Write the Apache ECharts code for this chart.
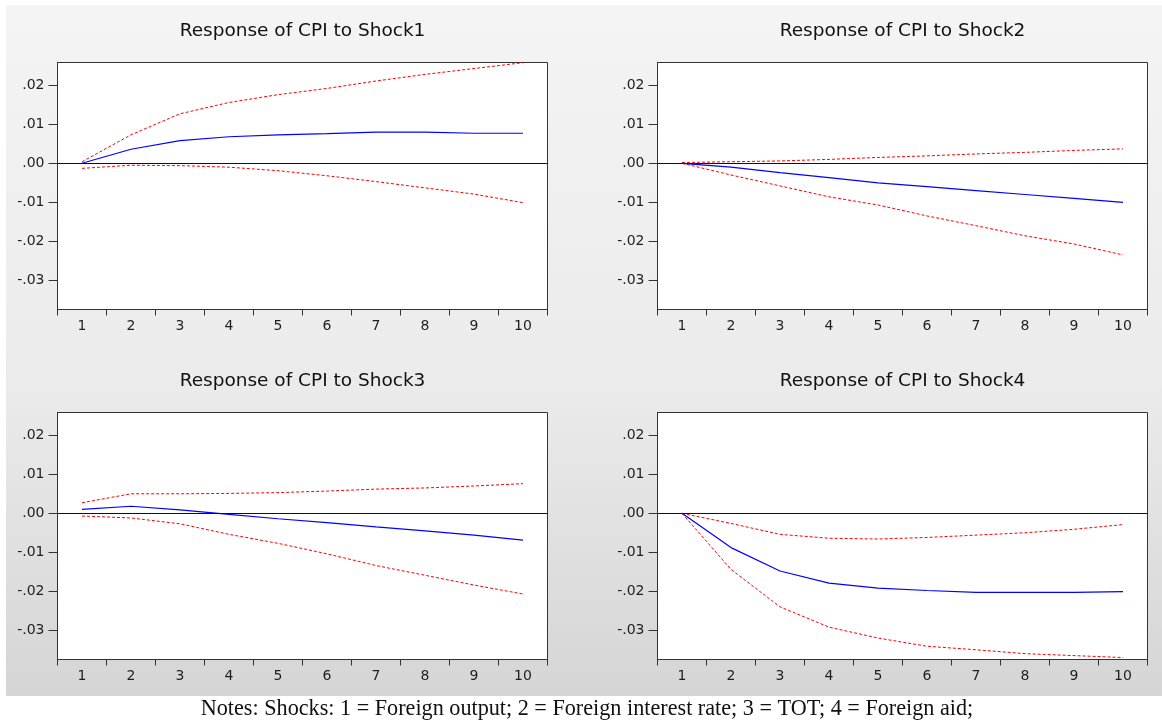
<!DOCTYPE html>
<html>
<head>
<meta charset="utf-8">
<script src="https://cdn.jsdelivr.net/npm/echarts@6/dist/echarts.min.js"></script>
<style>
  html, body { margin: 0; padding: 0; background: #ffffff; }
  #chart { width: 1162px; height: 725px; }
</style>
</head>
<body>
<div id="chart"></div>
<script>
// ---- data ----
var periods = ['1', '2', '3', '4', '5', '6', '7', '8', '9', '10'];
var yTicks = [-0.03, -0.02, -0.01, 0, 0.01, 0.02];

var titles = ['Response of CPI to Shock1', 'Response of CPI to Shock2',
              'Response of CPI to Shock3', 'Response of CPI to Shock4'];

var shock1Resp  = [0.0000, 0.0036, 0.0058, 0.0068, 0.0073, 0.0076, 0.0080, 0.0080, 0.0077, 0.0077];
var shock1Upper = [0.0004, 0.0073, 0.0127, 0.0156, 0.0176, 0.0192, 0.0211, 0.0228, 0.0243, 0.0258];
var shock1Lower = [-0.0013, -0.0005, -0.0006, -0.0010, -0.0019, -0.0032, -0.0047, -0.0063, -0.0079, -0.0101];

var shock2Resp  = [0.0000, -0.0010, -0.0024, -0.0037, -0.0050, -0.0060, -0.0070, -0.0080, -0.0090, -0.0100];
var shock2Upper = [0.0002, 0.0004, 0.0006, 0.0010, 0.0015, 0.0019, 0.0024, 0.0028, 0.0033, 0.0037];
var shock2Lower = [0.0000, -0.0030, -0.0058, -0.0086, -0.0107, -0.0135, -0.0160, -0.0186, -0.0207, -0.0235];

var shock3Resp  = [0.0010, 0.0018, 0.0009, -0.0003, -0.0014, -0.0024, -0.0035, -0.0045, -0.0056, -0.0069];
var shock3Upper = [0.0027, 0.0050, 0.0050, 0.0051, 0.0053, 0.0057, 0.0062, 0.0065, 0.0070, 0.0076];
var shock3Lower = [-0.0007, -0.0012, -0.0027, -0.0054, -0.0077, -0.0104, -0.0134, -0.0159, -0.0184, -0.0207];

var shock4Resp  = [0.0000, -0.0088, -0.0148, -0.0179, -0.0192, -0.0198, -0.0203, -0.0203, -0.0203, -0.0201];
var shock4Upper = [0.0000, -0.0026, -0.0054, -0.0064, -0.0066, -0.0062, -0.0056, -0.0050, -0.0041, -0.0029];
var shock4Lower = [0.0000, -0.0144, -0.0240, -0.0292, -0.0320, -0.0341, -0.0350, -0.0360, -0.0365, -0.0370];

var notesText = 'Notes: Shocks: 1 = Foreign output; 2 = Foreign interest rate; 3 = TOT; 4 = Foreign aid;';

// ---- layout ----
var panels = [
  { left: 57.5, top: 62.5, resp: shock1Resp, up: shock1Upper, lo: shock1Lower },
  { left: 657.5, top: 62.5, resp: shock2Resp, up: shock2Upper, lo: shock2Lower },
  { left: 57.5, top: 412.5, resp: shock3Resp, up: shock3Upper, lo: shock3Lower },
  { left: 657.5, top: 412.5, resp: shock4Resp, up: shock4Upper, lo: shock4Lower }
];
var PW = 490, PH = 247;
var yMin = -0.0375, yMax = 0.02585;
var sansFont = 'DejaVu Sans';

function fmtY(v) {
  var s = Math.abs(v).toFixed(2).replace(/^0/, '');
  return (v < -1e-9 ? '-' : '') + s;
}

var grids = [], xAxes = [], yAxes = [], series = [], titleComps = [];
panels.forEach(function (p, i) {
  grids.push({
    left: p.left, top: p.top, width: PW, height: PH,
    show: true, backgroundColor: '#ffffff', borderColor: '#333333', borderWidth: 1
  });
  xAxes.push({
    type: 'category', gridIndex: i, data: periods, boundaryGap: true, position: 'bottom',
    axisLine: { show: true, onZero: false, lineStyle: { color: '#333333', width: 1 } },
    axisTick: { show: true, inside: false, length: 6, alignWithLabel: false, interval: 0,
                lineStyle: { color: '#333333', width: 1 } },
    axisLabel: { interval: 0, margin: 10, color: '#1e1e1e', fontFamily: sansFont, fontSize: 14 },
    splitLine: { show: false }
  });
  yAxes.push({
    type: 'value', gridIndex: i, min: yMin, max: yMax, position: 'left',
    axisLine: { show: true, onZero: false, lineStyle: { color: '#333333', width: 1 } },
    axisTick: { show: true, length: 9, customValues: yTicks, lineStyle: { color: '#333333', width: 1 } },
    axisLabel: { customValues: yTicks, margin: 13, color: '#1e1e1e', fontFamily: sansFont, fontSize: 14,
                 formatter: fmtY },
    splitLine: { show: false }
  });
  series.push({
    type: 'line', xAxisIndex: i, yAxisIndex: i, data: p.up, symbol: 'none',
    lineStyle: { color: '#ff0000', width: 1, type: [3, 2] }, z: 3
  });
  series.push({
    type: 'line', xAxisIndex: i, yAxisIndex: i, data: p.lo, symbol: 'none',
    lineStyle: { color: '#ff0000', width: 1, type: [3, 2] }, z: 3
  });
  series.push({
    type: 'line', xAxisIndex: i, yAxisIndex: i, data: p.resp, symbol: 'none',
    lineStyle: { color: '#0000ff', width: 1.2 }, z: 4,
    markLine: {
      silent: true, symbol: ['none', 'none'], label: { show: false },
      lineStyle: { color: '#111111', width: 1, type: 'solid' },
      emphasis: { disabled: true },
      data: [{ yAxis: 0 }]
    }
  });
  titleComps.push({
    text: titles[i], left: p.left + PW / 2, top: p.top - 41, textAlign: 'center', padding: 0,
    textStyle: { fontFamily: sansFont, fontSize: 18.5, fontWeight: 'normal', color: '#111111' }
  });
});

titleComps.push({
  text: notesText, left: 587, top: 698, textAlign: 'center', padding: 0,
  textStyle: { fontFamily: 'Liberation Serif', fontSize: 22.2, fontWeight: 'normal', color: '#111111' }
});

var chart = echarts.init(document.getElementById('chart'), null, { renderer: 'canvas' });
chart.setOption({
  animation: false,
  backgroundColor: '#ffffff',
  graphic: [{
    type: 'rect', z: -100, silent: true,
    shape: { x: 6, y: 5, width: 1156, height: 691 },
    style: {
      fill: {
        type: 'linear', x: 0, y: 0, x2: 0, y2: 1,
        colorStops: [
          { offset: 0, color: '#f4f4f4' },
          { offset: 0.55, color: '#ebebeb' },
          { offset: 1, color: '#d5d5d5' }
        ]
      }
    }
  }],
  title: titleComps,
  grid: grids,
  xAxis: xAxes,
  yAxis: yAxes,
  series: series
});
</script>
</body>
</html>
